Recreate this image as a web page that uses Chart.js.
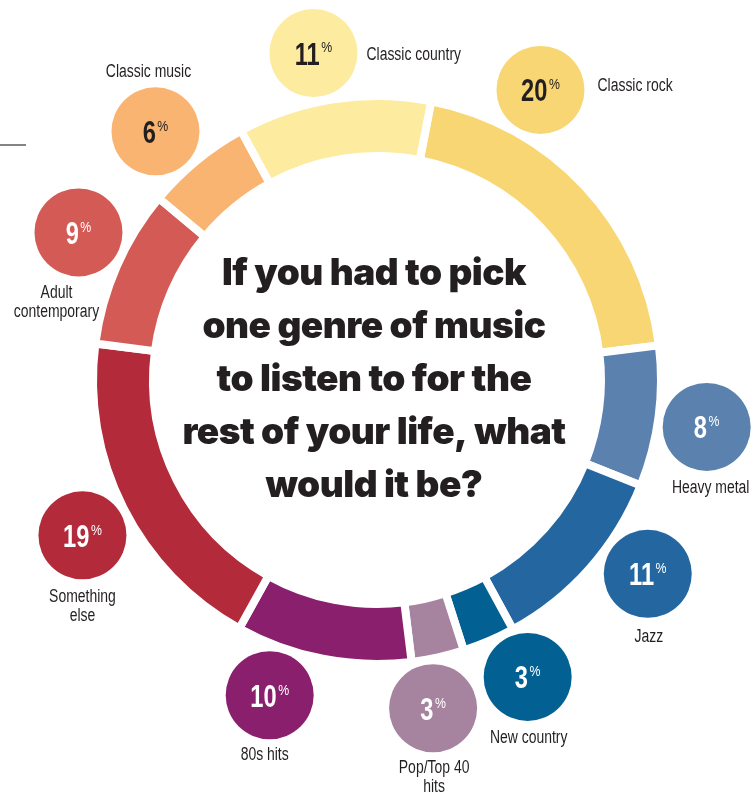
<!DOCTYPE html>
<html><head><meta charset="utf-8">
<script src="https://cdn.jsdelivr.net/npm/chart.js@4.4.1/dist/chart.umd.min.js"></script>
<style>html,body{margin:0;padding:0;background:#fff;}canvas{display:block;}</style>
</head><body>
<canvas id="c" width="754" height="794"></canvas>
<script>
// ---- data ----
const categories = ['Classic rock','Heavy metal','Jazz','New country','Pop/Top 40 hits','80s hits','Something else','Adult contemporary','Classic music','Classic country'];
const shares = [20, 8, 11, 3, 3, 10, 19, 9, 6, 11];
const labelLines = [['Classic rock'],['Heavy metal'],['Jazz'],['New country'],['Pop/Top 40','hits'],['80s hits'],['Something','else'],['Adult','contemporary'],['Classic music'],['Classic country']];
const titleLines = ['If you had to pick','one genre of music','to listen to for the','rest of your life, what','would it be?'];

// ---- styling / layout ----
const colors = ['#F8D673','#5B81AE','#2467A0','#036093','#A6839F','#8A1F6E','#B32A3A','#D45A55','#F9B471','#FDEBA0'];
const darkText = [true,false,false,false,false,false,false,false,true,true];
const bubbleAngles = [29.4, 98.1, 125.6, 153.1, 170.3, 198.8, 242.2, 296.3, 318.3, 349];
const labelPlacement = ['right','below','below','below','below','below','below','below','above','right'];
const labelDx = [4, 4, 1, 1, 1, -5, 0, -22, -7, 0];
const labelDy = [-4, 0, 2, 0, -1, -1, 1, 0, 0, 2];
const INK = '#231F20';
const SANS = "'Liberation Sans', Arial, sans-serif";

function narrowText(ctx, text, x, y, sx, align) {
  ctx.save();
  ctx.translate(x, y);
  ctx.scale(sx, 1);
  ctx.textAlign = align;
  ctx.fillText(text, 0, 0);
  ctx.restore();
}

const overlay = {
  id: 'overlay',
  afterDraw(chart) {
    const ctx = chart.ctx;
    const arc0 = chart.getDatasetMeta(0).data[0];
    const cx = arc0.x, cy = arc0.y, R = arc0.outerRadius;
    const orbit = R + 49, br = 44;
    ctx.save();
    // small rule at top-left
    ctx.strokeStyle = '#333';
    ctx.lineWidth = 1.2;
    ctx.beginPath(); ctx.moveTo(0, cy - 235); ctx.lineTo(26, cy - 235); ctx.stroke();

    // title
    ctx.fillStyle = INK;
    ctx.textAlign = 'center';
    ctx.textBaseline = 'alphabetic';
    ctx.font = "900 37px Inter, 'Noto Sans', sans-serif";
    try { ctx.letterSpacing = '-0.5px'; } catch (e) {}
    titleLines.forEach((t, i) => {
      ctx.fillText(t, cx - 3, cy + 11 + (i - 2) * 53);
    });
    try { ctx.letterSpacing = '0px'; } catch (e) {}

    // bubbles
    const sxNum = 0.74, sxPct = 0.82, sxLab = 0.775;
    shares.forEach((v, i) => {
      const a = bubbleAngles[i] * Math.PI / 180;
      const bx = cx + orbit * Math.sin(a), by = cy - orbit * Math.cos(a);
      ctx.fillStyle = colors[i];
      ctx.beginPath(); ctx.arc(bx, by, br, 0, Math.PI * 2); ctx.fill();
      // value
      const num = String(v);
      ctx.font = "bold 32px " + SANS;
      const wn = ctx.measureText(num).width * sxNum;
      ctx.font = "15px " + SANS;
      const wp = ctx.measureText('%').width * sxPct;
      const total = wn + 1.5 + wp;
      const x0 = bx - total / 2;
      const digitH = 23;
      ctx.fillStyle = darkText[i] ? INK : '#fff';
      ctx.textBaseline = 'alphabetic';
      ctx.font = "bold 32px " + SANS;
      narrowText(ctx, num, x0, by + digitH / 2, sxNum, 'left');
      ctx.font = "15px " + SANS;
      narrowText(ctx, '%', x0 + wn + 1.5, by - digitH / 2 + 10.8, sxPct, 'left');
      // label
      ctx.fillStyle = INK;
      ctx.font = "18px " + SANS;
      ctx.textBaseline = 'middle';
      const lines = labelLines[i];
      const lh = 19;
      if (labelPlacement[i] === 'right') {
        lines.forEach((t, k) => narrowText(ctx, t, bx + br + 9 + labelDx[i], by + labelDy[i] + k * lh, sxLab, 'left'));
      } else if (labelPlacement[i] === 'below') {
        lines.forEach((t, k) => narrowText(ctx, t, bx + labelDx[i], by + br + 17 + labelDy[i] + k * lh, sxLab, 'center'));
      } else {
        const n = lines.length;
        lines.forEach((t, k) => narrowText(ctx, t, bx + labelDx[i], by - br - 15 + labelDy[i] - (n - 1 - k) * lh, sxLab, 'center'));
      }
    });
    ctx.restore();
  }
};

new Chart(document.getElementById('c'), {
  type: 'doughnut',
  data: {
    labels: categories,
    datasets: [{
      data: shares,
      backgroundColor: colors,
      borderColor: '#ffffff',
      borderWidth: 8,
      hoverOffset: 0
    }]
  },
  options: {
    responsive: false,
    animation: false,
    rotation: 11,
    radius: 284,
    cutout: (224 / 284 * 100).toFixed(2) + '%',
    layout: { padding: { bottom: 34 } },
    plugins: { legend: { display: false }, tooltip: { enabled: false } },
    events: []
  },
  plugins: [overlay]
});
</script>
</body></html>
